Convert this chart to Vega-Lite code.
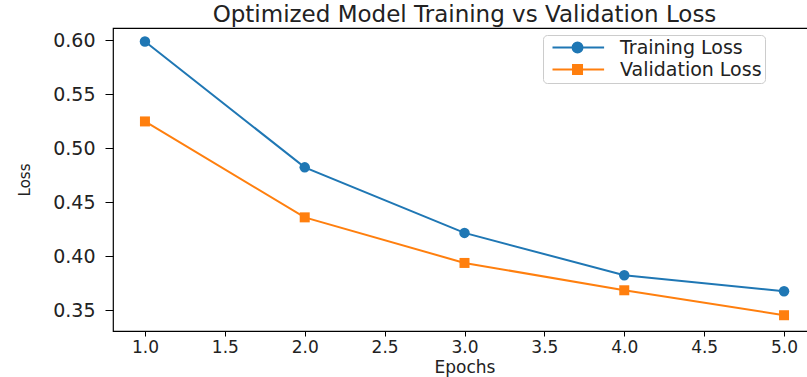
{
  "$schema": "https://vega.github.io/schema/vega-lite/v6.json",
  "width": 703,
  "height": 303,
  "autosize": "none",
  "padding": {"left": 113, "top": 28, "right": 0, "bottom": 46},
  "background": "white",
  "title": {
    "text": "Optimized Model Training vs Validation Loss",
    "font": "DejaVu Sans",
    "fontSize": 23,
    "fontWeight": "normal",
    "color": "#222222",
    "anchor": "middle",
    "offset": 1
  },
  "config": {
    "view": {"stroke": "#000000", "strokeWidth": 1.2},
    "axis": {
      "domain": false,
      "grid": false,
      "tickColor": "#000000",
      "labelFont": "DejaVu Sans",
      "labelColor": "#222222",
      "titleFont": "DejaVu Sans",
      "titleFontWeight": "normal",
      "titleColor": "#222222"
    }
  },
  "data": {
    "values": [
      {"epoch": 1, "loss": 0.599, "series": "Training Loss"},
      {"epoch": 2, "loss": 0.4825, "series": "Training Loss"},
      {"epoch": 3, "loss": 0.4218, "series": "Training Loss"},
      {"epoch": 4, "loss": 0.3826, "series": "Training Loss"},
      {"epoch": 5, "loss": 0.3678, "series": "Training Loss"},
      {"epoch": 1, "loss": 0.525, "series": "Validation Loss"},
      {"epoch": 2, "loss": 0.4362, "series": "Validation Loss"},
      {"epoch": 3, "loss": 0.394, "series": "Validation Loss"},
      {"epoch": 4, "loss": 0.3687, "series": "Validation Loss"},
      {"epoch": 5, "loss": 0.3456, "series": "Validation Loss"}
    ]
  },
  "encoding": {
    "x": {
      "field": "epoch",
      "type": "quantitative",
      "scale": {"domain": [0.8, 5.2], "nice": false, "zero": false},
      "axis": {
        "title": "Epochs",
        "values": [1, 1.5, 2, 2.5, 3, 3.5, 4, 4.5, 5],
        "format": ".1f",
        "labelFontSize": 17,
        "titleFontSize": 17,
        "tickSize": 5,
        "labelPadding": 3,
        "titlePadding": 4
      }
    },
    "y": {
      "field": "loss",
      "type": "quantitative",
      "scale": {"domain": [0.331, 0.6115], "nice": false, "zero": false},
      "axis": {
        "title": "Loss",
        "values": [0.35, 0.4, 0.45, 0.5, 0.55, 0.6],
        "format": ".2f",
        "labelFontSize": 19,
        "titleFontSize": 15,
        "tickSize": 8,
        "labelPadding": 10,
        "titlePadding": 20
      }
    }
  },
  "layer": [
    {
      "mark": {"type": "line", "strokeWidth": 2},
      "encoding": {
        "color": {
          "field": "series",
          "type": "nominal",
          "scale": {"domain": ["Training Loss", "Validation Loss"], "range": ["#1f77b4", "#ff7f0e"]},
          "legend": {
            "orient": "none",
            "legendX": 430,
            "legendY": 7,
            "title": null,
            "labelFont": "DejaVu Sans",
            "labelFontSize": 19,
            "labelColor": "#222222",
            "symbolSize": 144,
            "labelOffset": 55,
            "padding": 3,
            "rowPadding": 2,
            "fillColor": "rgba(255,255,255,0.85)",
            "strokeColor": "#cccccc",
            "cornerRadius": 4,
            "encode": {
              "symbols": {
                "update": {
                  "shape": {"signal": "datum.value === 'Training Loss' ? 'M -0.5 0 L 8.1 0 M 2.84 0 A 0.83 0.83 0 1 0 4.5 0 A 0.83 0.83 0 1 0 2.84 0 Z' : 'M -0.5 0 L 8.1 0 M 2.92 -0.75 L 4.42 -0.75 L 4.42 0.75 L 2.92 0.75 Z'"},
                  "fill": {"signal": "datum.value === 'Training Loss' ? '#1f77b4' : '#ff7f0e'"},
                  "stroke": {"signal": "datum.value === 'Training Loss' ? '#1f77b4' : '#ff7f0e'"},
                  "strokeWidth": {"value": 2},
                  "opacity": {"value": 1},
                  "fillOpacity": {"value": 1}
                }
              }
            }
          }
        }
      }
    },
    {
      "transform": [{"filter": "datum.series === 'Training Loss'"}],
      "mark": {"type": "point", "shape": "circle", "filled": true, "opacity": 1, "size": 110, "color": "#1f77b4"}
    },
    {
      "transform": [{"filter": "datum.series === 'Validation Loss'"}],
      "mark": {"type": "point", "shape": "square", "filled": true, "opacity": 1, "size": 100, "color": "#ff7f0e"}
    }
  ]
}
